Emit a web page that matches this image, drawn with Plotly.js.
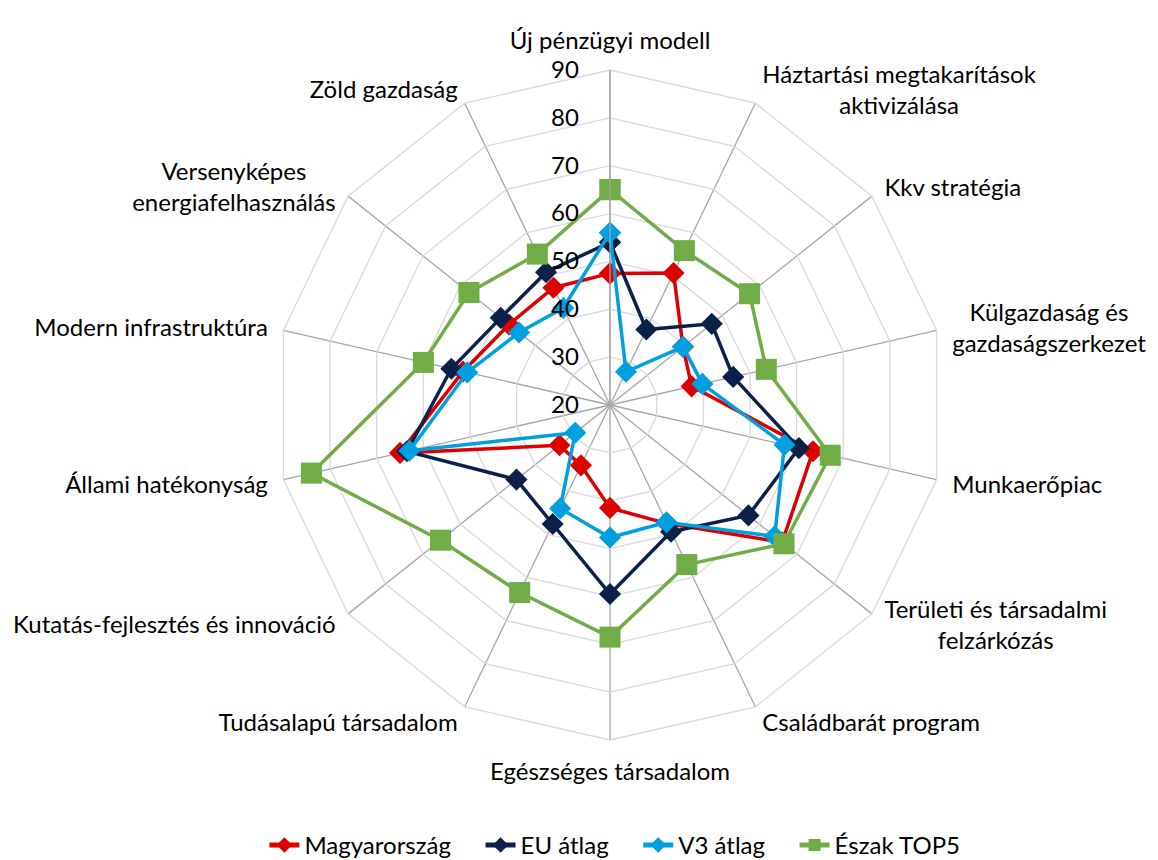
<!DOCTYPE html>
<html>
<head>
<meta charset="utf-8">
<script src="https://cdn.plot.ly/plotly-3.0.1.min.js"></script>
<style>
html, body { margin: 0; padding: 0; background: #ffffff; }
#chart { width: 1158px; height: 860px; }
</style>
</head>
<body>
<div id="chart"></div>
<script>
const categories = [
  "Új pénzügyi modell",
  "Háztartási megtakarítások<br>aktivizálása",
  "Kkv stratégia",
  "Külgazdaság és<br>gazdaságszerkezet",
  "Munkaerőpiac",
  "Területi és társadalmi<br>felzárkózás",
  "Családbarát program",
  "Egészséges társadalom",
  "Tudásalapú társadalom",
  "Kutatás-fejlesztés és innováció",
  "Állami hatékonyság",
  "Modern infrastruktúra",
  "Versenyképes<br>energiafelhasználás",
  "Zöld gazdaság"
];

const seriesNames = ["Magyarország", "EU átlag", "V3 átlag", "Észak TOP5"];

const magyarorszag = [47.5, 50.6, 39.5, 37.5, 63.5, 66.0, 47.5, 41.5, 34.0, 33.5, 65.0, 51.5, 47.0, 47.2];
const euAtlag      = [54.0, 37.5, 47.2, 46.4, 60.5, 57.0, 49.4, 59.5, 47.6, 45.0, 63.5, 54.0, 49.2, 50.8];
const v3Atlag      = [56.0, 27.7, 39.5, 39.8, 57.4, 64.0, 47.2, 47.7, 44.0, 29.3, 63.0, 50.6, 44.3, 42.5];
const eszakTop5    = [65.0, 55.8, 57.3, 53.5, 67.2, 66.5, 57.0, 68.5, 63.5, 65.3, 84.0, 60.0, 57.7, 55.0];

const radialTicks = [20, 30, 40, 50, 60, 70, 80, 90];

const colors = ["#DD0000", "#0C2149", "#009FDF", "#70AD47"];
const symbols = ["diamond", "diamond", "diamond", "square"];
const sizes = [17, 17, 17, 21];
const allValues = [magyarorszag, euAtlag, v3Atlag, eszakTop5];

const FONT = "Lato, 'Open Sans', sans-serif";
const NBSP = "\u00a0";

const traces = allValues.map((vals, i) => ({
  type: "scatterpolar",
  mode: "lines+markers",
  name: seriesNames[i] + (i < 3 ? NBSP.repeat(4) : ""),
  r: vals.concat([vals[0]]),
  theta: categories.concat([categories[0]]),
  line: { color: colors[i], width: 3.5 },
  marker: { color: colors[i], symbol: symbols[i], size: sizes[i], line: { width: 0 } },
  cliponaxis: false
}));

const CX = 610, CY = 405, R = 335, W = 1158, H = 860;
const LABEL_GAP = 16;

const layout = {
  width: W,
  height: H,
  paper_bgcolor: "#ffffff",
  plot_bgcolor: "#ffffff",
  margin: { l: 0, r: 0, t: 0, b: 0, autoexpand: false },
  font: { family: FONT, size: 24, color: "#000000" },
  showlegend: true,
  legend: {
    orientation: "h",
    x: 0.531,
    xanchor: "center",
    y: 0.017,
    yanchor: "middle",
    font: { family: FONT, size: 24, color: "#000000" },
    itemsizing: "constant",
    traceorder: "normal"
  },
  polar: {
    domain: {
      x: [(CX - R) / W, (CX + R) / W],
      y: [(H - CY - R) / H, (H - CY + R) / H]
    },
    bgcolor: "#ffffff",
    gridshape: "linear",
    angularaxis: {
      type: "category",
      categoryorder: "array",
      categoryarray: categories,
      rotation: 90,
      direction: "clockwise",
      showline: true,
      linecolor: "#D9D9D9",
      linewidth: 1.3,
      showgrid: true,
      gridcolor: "#A6A6A6",
      gridwidth: 1.3,
      ticks: "outside",
      ticklen: 14,
      tickcolor: "rgba(0,0,0,0)",
      tickfont: { family: FONT, size: 24, color: "#000000" }
    },
    radialaxis: {
      range: [20, 90],
      tickvals: radialTicks,
      ticktext: radialTicks.map(String),
      angle: 90,
      side: "counterclockwise",
      showline: true,
      linecolor: "#A6A6A6",
      linewidth: 1.3,
      showgrid: true,
      gridcolor: "#D9D9D9",
      gridwidth: 1.3,
      ticks: "outside",
      ticklen: 22,
      tickcolor: "rgba(0,0,0,0)",
      tickangle: 90,
      tickfont: { family: FONT, size: 24, color: "#000000" }
    }
  }
};

Plotly.newPlot("chart", traces, layout, { displayModeBar: false, staticPlot: true }).then(() => {
  const host = document.getElementById("chart").getBoundingClientRect();
  const texts = Array.from(document.querySelectorAll("text[data-unformatted]"));
  categories.forEach((cat, i) => {
    const t = texts.find(el => el.getAttribute("data-unformatted") === cat);
    if (!t) return;
    // centre multi-line labels
    const lines = t.querySelectorAll("tspan.line");
    if (lines.length > 1) {
      const bb = t.getBBox();
      const cx = bb.x + bb.width / 2;
      t.setAttribute("text-anchor", "middle");
      t.setAttribute("x", cx);
      lines.forEach(l => l.setAttribute("x", cx));
    }
    // place label box next to its spoke end, like the original
    const ang = i * 2 * Math.PI / categories.length;
    const ux = Math.sin(ang), uy = -Math.cos(ang);
    const ax = CX + (R + LABEL_GAP) * ux;
    const ay = CY + (R + LABEL_GAP) * uy;
    const rc = t.getBoundingClientRect();
    const left = rc.left - host.left, top = rc.top - host.top;
    let tx, ty;
    if (Math.abs(ux) < 0.01) {
      tx = ax - rc.width / 2;
      ty = uy < 0 ? ay - rc.height : ay;
    } else {
      tx = ux > 0 ? ax : ax - rc.width;
      ty = ay - rc.height / 2;
    }
    const dx = tx - left, dy = ty - top;
    const prev = t.getAttribute("transform") || "";
    t.setAttribute("transform", (prev + " translate(" + dx + "," + dy + ")").trim());
  });
});
</script>
</body>
</html>
